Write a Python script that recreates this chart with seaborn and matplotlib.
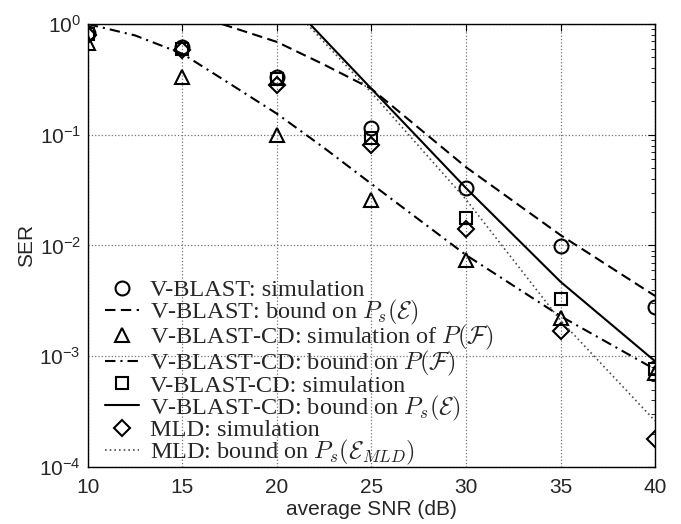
import matplotlib
matplotlib.use('Agg')
import matplotlib.pyplot as plt
import seaborn as sns

# SNR points of the simulations
snr = [10, 15, 20, 25, 30, 35, 40]

# simulation markers
vblast_sim = [0.83, 0.62, 0.33, 0.115, 0.033, 0.0099, 0.0028]
vblastcd_pf_sim = [0.67, 0.33, 0.10, 0.026, 0.0074, 0.0022, 0.0007]
vblastcd_sim = [0.81, 0.60, 0.32, 0.093, 0.0176, 0.0033, 0.00076]
mld_sim = [0.80, 0.58, 0.28, 0.081, 0.014, 0.0017, 0.00018]

# analytic bounds
vblast_bound_x = [17.1, 20, 22.5, 25, 30, 35, 40]
vblast_bound = [1.0, 0.69, 0.43, 0.26, 0.051, 0.0124, 0.0035]
pf_bound_x = [10, 12.5, 15, 17.5, 20, 22.5, 25, 30, 35, 40]
pf_bound = [1.0, 0.79, 0.54, 0.29, 0.155, 0.076, 0.036, 0.0082, 0.0023, 0.00076]
cd_bound_x = [21.75, 25, 30, 35, 40]
cd_bound = [1.0, 0.26, 0.033, 0.0047, 0.0009]
mld_bound_x = [21.6, 25, 30, 35, 40]
mld_bound = [1.0, 0.24, 0.026, 0.0021, 0.00026]

labels = [
    'V-BLAST: simulation',
    r'V-BLAST: bound on $P_s(\mathcal{E})$',
    r'V-BLAST-CD: simulation of $P(\mathcal{F})$',
    r'V-BLAST-CD: bound on $P(\mathcal{F})$',
    'V-BLAST-CD: simulation',
    r'V-BLAST-CD: bound on $P_s(\mathcal{E})$',
    'MLD: simulation',
    r'MLD: bound on $P_s(\mathcal{E}_{MLD})$',
]

sns.set_style('white')
plt.rcParams['font.family'] = ['Liberation Sans', 'DejaVu Sans']
plt.rcParams['mathtext.fontset'] = 'cm'

fig = plt.figure(figsize=(6.81, 5.24), dpi=100)
ax = fig.add_axes([0.129, 0.109, 0.833, 0.845])

mk = dict(linestyle='', color='k', markerfacecolor='none',
          markeredgecolor='k', markeredgewidth=1.5, markersize=10)
ln = dict(color='k', linewidth=1.5)

sns.lineplot(x=snr, y=vblast_sim, marker='o', ax=ax, label=labels[0], **mk)
sns.lineplot(x=vblast_bound_x, y=vblast_bound, ax=ax, label=labels[1],
             **{**ln, 'linestyle': (0, (5, 2.6))})
sns.lineplot(x=snr, y=vblastcd_pf_sim, marker='^', ax=ax, label=labels[2], **mk)
sns.lineplot(x=pf_bound_x, y=pf_bound, ax=ax, label=labels[3],
             **{**ln, 'linestyle': (0, (5, 2.4, 1, 2.4))})
sns.lineplot(x=snr, y=vblastcd_sim, marker='s', ax=ax, label=labels[4],
             **{**mk, 'markersize': 8.5})
sns.lineplot(x=cd_bound_x, y=cd_bound, linestyle='-', ax=ax,
             label=labels[5], **ln)
sns.lineplot(x=snr, y=mld_sim, marker='D', ax=ax, label=labels[6],
             **{**mk, 'markersize': 8})
sns.lineplot(x=mld_bound_x, y=mld_bound, ax=ax, label=labels[7],
             **{**ln, 'linewidth': 1.2, 'linestyle': (0, (1, 1.8)),
                'color': '0.3'})

ax.set_yscale('log')
ax.set_xlim(10, 40)
ax.set_ylim(1e-4, 1)
ax.set_xticks([10, 15, 20, 25, 30, 35, 40])
ax.grid(True, which='major', linestyle=':', color='0.45', linewidth=0.9)
ax.tick_params(which='both', direction='in', top=True, right=True,
               labelsize=15, color='k')
ax.tick_params(which='major', length=5)
ax.tick_params(which='minor', length=3)
ax.tick_params(axis='x', pad=8)
ax.tick_params(axis='y', pad=5)
for s in ax.spines.values():
    s.set_color('k')
    s.set_linewidth(1.0)

ax.set_xlabel('average SNR (dB)', fontsize=15, labelpad=2)
ax.set_ylabel('SER', fontsize=15, labelpad=2)

leg = ax.legend(loc='lower left', bbox_to_anchor=(0.03, 0.0), frameon=False,
                prop={'family': 'Liberation Serif', 'size': 17.5},
                handlelength=1.4, handletextpad=0.45, labelspacing=-0.14,
                borderaxespad=0, borderpad=0)

fig.savefig('out.png', dpi=100)
